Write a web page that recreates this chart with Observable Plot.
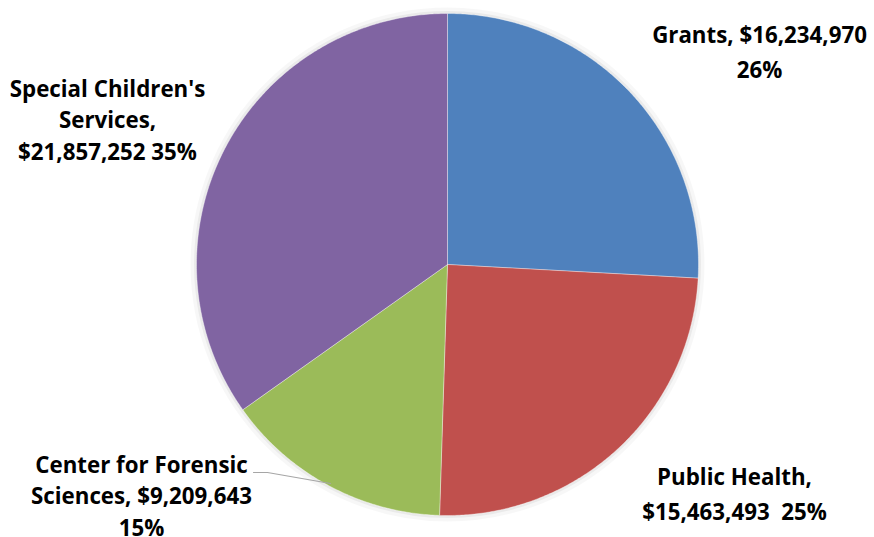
<!DOCTYPE html>
<html><head><meta charset="utf-8">
<script src="https://cdn.jsdelivr.net/npm/d3@7"></script>
<script src="https://cdn.jsdelivr.net/npm/@observablehq/plot@0.6"></script>
<style>body{margin:0;background:#fff;overflow:hidden}</style>
</head><body><div id="chart"></div>
<script>
// ---- data ----
const categories = ["Grants", "Public Health", "Center for Forensic Sciences", "Special Children's Services"];
const amounts = [16234970, 15463493, 9209643, 21857252];
const percentLabels = ["26%", "25%", "15%", "35%"];
const amountLabels = ["$16,234,970", "$15,463,493", "$9,209,643", "$21,857,252"];
const colors = ["#4F81BD", "#C0504D", "#9BBB59", "#8064A2"];
const labelText = [
  "Grants, " + amountLabels[0] + "\n" + percentLabels[0],
  "Public Health,\n" + amountLabels[1] + "\u00a0 " + percentLabels[1],
  "Center for Forensic\nSciences, " + amountLabels[2] + "\n" + percentLabels[2],
  "Special Children's\nServices,\n" + amountLabels[3] + " " + percentLabels[3]
];

// ---- layout (unit-circle coordinates) ----
const R = 251, CX = 447, CY = 264, W = 874, H = 537;
const labelAnchor = [
  {x: (759 - CX) / R, y: (CY - 48.5) / R, lh: 35},
  {x: (734 - CX) / R, y: (CY - 491) / R, lh: 35},
  {x: (141 - CX) / R, y: (CY - 493.5) / R, lh: 31.5},
  {x: (107 - CX) / R, y: (CY - 117.5) / R, lh: 31.5}
];
const leader = [
  {x: (253 - CX) / R, y: (CY - 472) / R},
  {x: (267 - CX) / R, y: (CY - 472) / R},
  {x: (330 - CX) / R, y: (CY - 483) / R}
];

const rows = categories.map((name, i) => ({name, amount: amounts[i]}));
const arcs = d3.pie().sort(null).value(d => d.amount)(rows);
const slicePts = arcs.flatMap(a => {
  const n = Math.max(4, Math.ceil((a.endAngle - a.startAngle) / (Math.PI / 360)));
  const pts = [{name: a.data.name, x: 0, y: 0}];
  for (let i = 0; i <= n; i++) {
    const t = a.startAngle + (a.endAngle - a.startAngle) * i / n;
    pts.push({name: a.data.name, x: Math.sin(t), y: Math.cos(t)});
  }
  pts.push({name: a.data.name, x: 0, y: 0});
  return pts;
});

const font = 22.3;
const textMarks = labelText.map((t, i) => Plot.text([t], {
  x: labelAnchor[i].x, y: labelAnchor[i].y, text: d => d,
  fontSize: font, fontWeight: "bold", fill: "#000",
  textAnchor: "middle", lineHeight: labelAnchor[i].lh / font
}));

const chart = Plot.plot({
  width: W, height: H, margin: 0,
  x: {domain: [-CX / R, (W - CX) / R], axis: null},
  y: {domain: [-(H - CY) / R, CY / R], axis: null},
  color: {domain: categories, range: colors},
  style: {fontFamily: "'Open Sans', sans-serif", background: "#fff"},
  marks: [
    Plot.dot([0], {x: 0, y: 0, r: R + 3, stroke: "#000", strokeOpacity: 0.03, strokeWidth: 6}),
    Plot.dot([0], {x: 0, y: 0, r: R + 1, stroke: "#000", strokeOpacity: 0.05, strokeWidth: 3}),
    Plot.line(slicePts, {x: "x", y: "y", z: "name", fill: "name", stroke: "#fff", strokeOpacity: 0.35, strokeWidth: 1, curve: "linear"}),
    Plot.line(leader, {x: "x", y: "y", stroke: "#a6a6a6", strokeWidth: 1.2}),
    ...textMarks
  ]
});
document.getElementById("chart").append(chart);
</script>
</body></html>
